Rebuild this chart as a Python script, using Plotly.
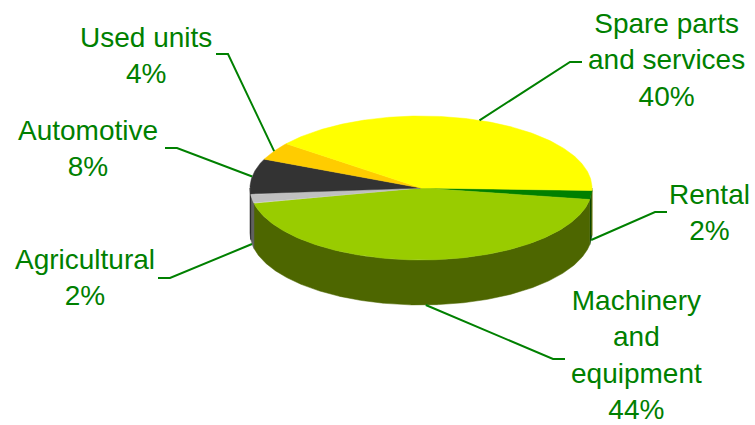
import numpy as np
import plotly.graph_objects as go

# ---------------- data ----------------
categories = ["Rental", "Machinery<br>and<br>equipment", "Agricultural",
              "Automotive", "Used units", "Spare parts<br>and services"]
values = [2, 44, 2, 8, 4, 40]

# ---------------- style / layout ----------------
top_colors = ["#008000", "#99CC00", "#C0C0C0", "#333333", "#FFCC00", "#FFFF00"]
side_colors = ["#004000", "#4D6600", "#606060", "#1A1A1A", "#806600", "#808000"]
TEXT_COLOR = "#008000"
W, H = 755, 425
CX, CY, RX, RY, DEPTH = 421, 188, 171, 72, 45
START_DEG = 2.0
# label block centres and leader elbows (layout only)
label_xy = [(709, 212), (636, 355), (85, 277), (88, 148), (146, 55), (666, 60)]
elbow_xy = [(655, 212), (553, 359), (170, 278), (177, 148), (228, 54), (570, 62)]
HOOK = 12

def pt(theta_deg, dy=0.0):
    t = np.radians(theta_deg)
    return CX + RX * np.cos(t), CY + RY * np.sin(t) + dy

total = float(sum(values))
spans = [v / total * 360.0 for v in values]
starts = START_DEG + np.concatenate([[0], np.cumsum(spans)[:-1]])

fig = go.Figure()

# side walls (front half only)
for i, (a, s) in enumerate(zip(starts, spans)):
    b = a + s
    for lo, hi in [(0, 180), (360, 540)]:
        aa, bb = max(a, lo), min(b, hi)
        if bb <= aa:
            continue
        th = np.linspace(aa, bb, max(3, int((bb - aa) * 2)))
        xs_t, ys_t = pt(th)
        xs_b, ys_b = pt(th[::-1], DEPTH)
        xs = np.concatenate([xs_t, xs_b, xs_t[:1]])
        ys = np.concatenate([ys_t, ys_b, ys_t[:1]])
        fig.add_trace(go.Scatter(x=xs, y=ys, mode="lines", fill="toself",
                                 fillcolor=side_colors[i],
                                 line=dict(color=side_colors[i], width=0.5),
                                 hoverinfo="skip", showlegend=False))

# top faces
for i, (a, s) in enumerate(zip(starts, spans)):
    th = np.linspace(a, a + s, max(3, int(s * 2)))
    xs, ys = pt(th)
    xs = np.concatenate([[CX], xs, [CX]])
    ys = np.concatenate([[CY], ys, [CY]])
    fig.add_trace(go.Scatter(x=xs, y=ys, mode="lines", fill="toself",
                             fillcolor=top_colors[i],
                             line=dict(color=top_colors[i], width=0.5),
                             hoverinfo="skip", showlegend=False))

# leader lines and labels
annotations = []
for i, (a, s) in enumerate(zip(starts, spans)):
    mid = (a + s / 2.0) % 360
    front = 0 <= mid <= 180
    px, py = pt(mid, DEPTH if front else 0)
    ex, ey = elbow_xy[i]
    lx, ly = label_xy[i]
    hx = ex + (HOOK if lx > ex else -HOOK)
    fig.add_trace(go.Scatter(x=[px, ex, hx], y=[py, ey, ey], mode="lines",
                             line=dict(color=TEXT_COLOR, width=2),
                             hoverinfo="skip", showlegend=False))
    pct = round(values[i] / total * 100)
    annotations.append(dict(x=lx, y=ly, xref="x", yref="y",
                            text=f"{categories[i]}<br>{pct}%",
                            showarrow=False, xanchor="center", yanchor="middle",
                            align="center",
                            font=dict(family="Liberation Sans, Arial, sans-serif",
                                      size=28, color=TEXT_COLOR)))

fig.update_layout(
    width=W, height=H, margin=dict(l=0, r=0, t=0, b=0),
    paper_bgcolor="white", plot_bgcolor="white",
    xaxis=dict(range=[0, W], visible=False, fixedrange=True),
    yaxis=dict(range=[H, 0], visible=False, fixedrange=True),
    annotations=annotations,
)

fig.write_html("out.html", config={"displayModeBar": False},
               post_script="document.body.style.margin='0';document.body.style.overflow='hidden';")
